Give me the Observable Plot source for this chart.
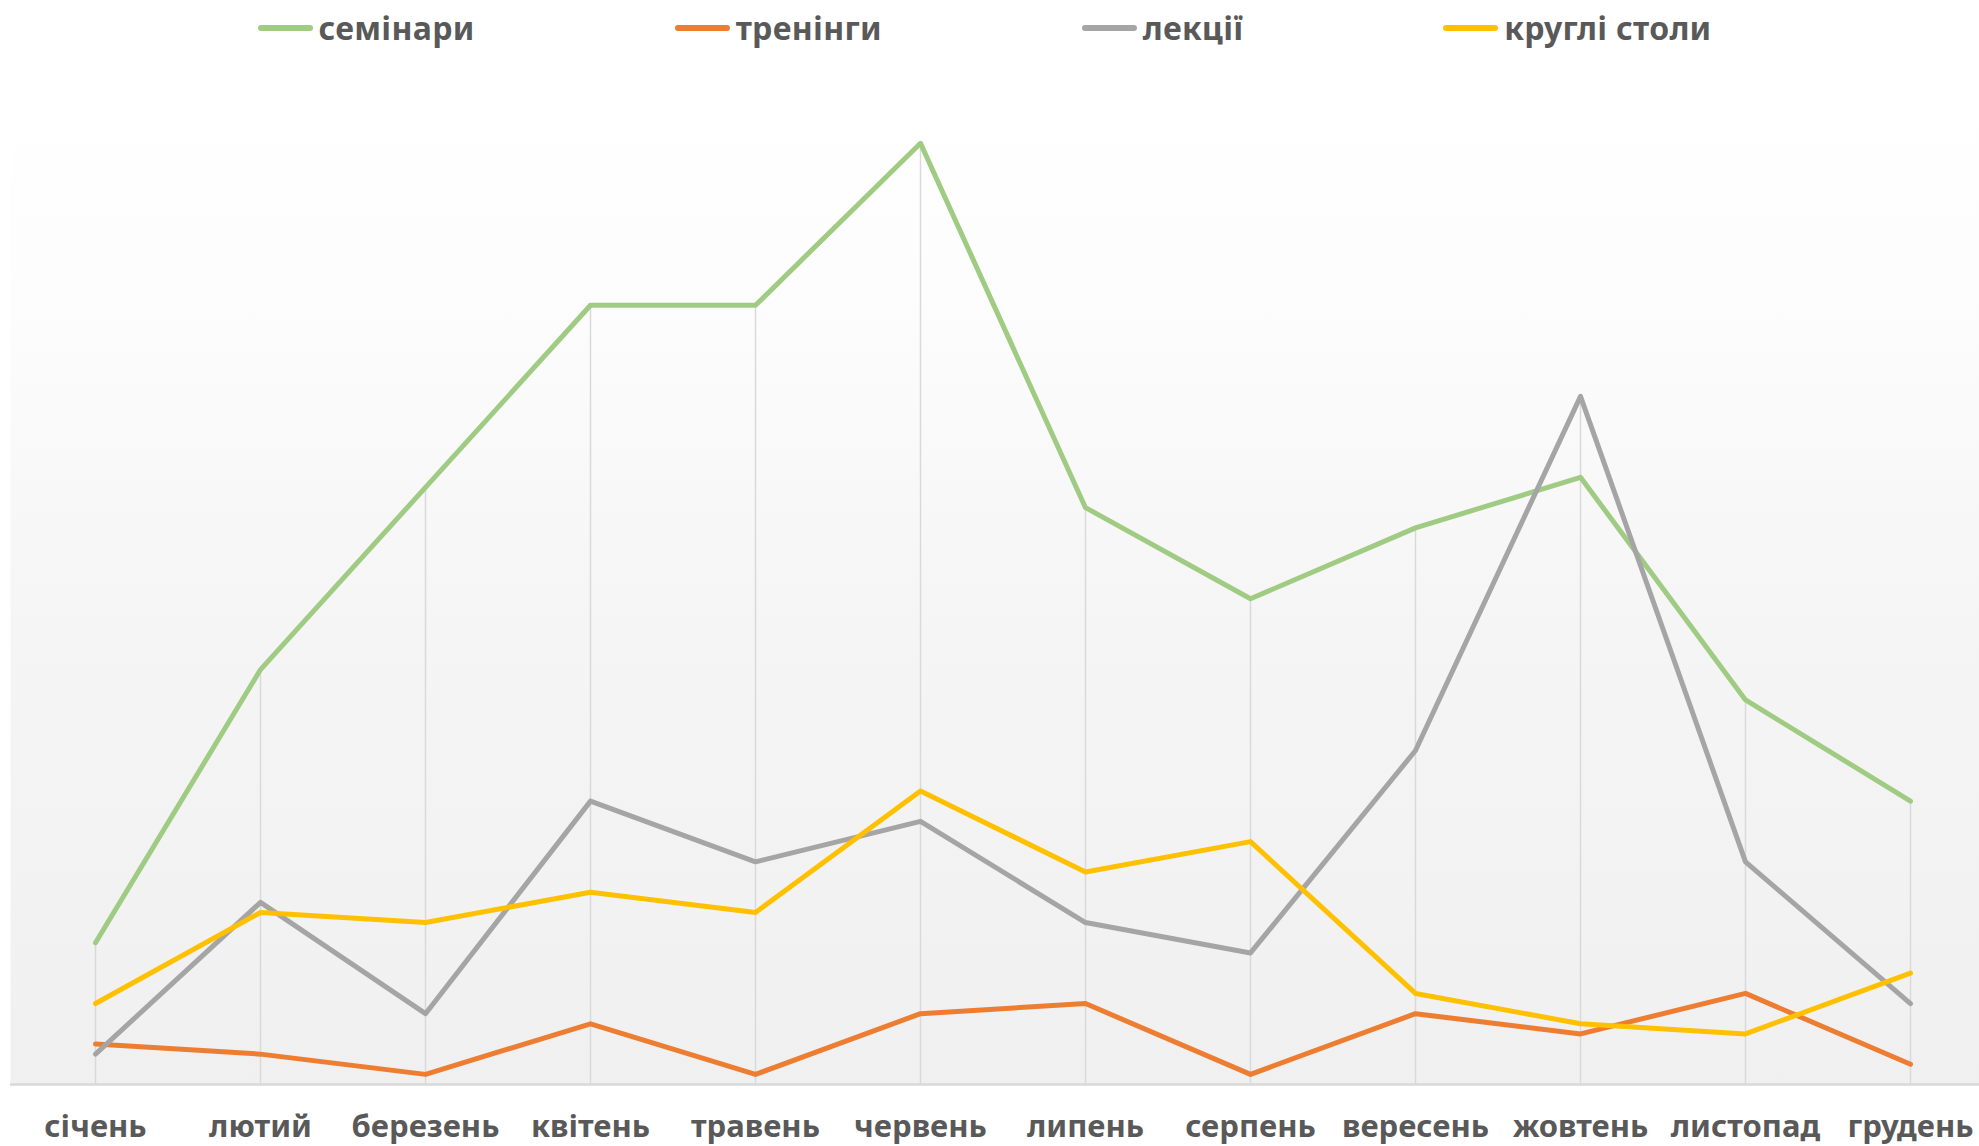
<!DOCTYPE html>
<html>
<head>
<meta charset="utf-8">
<script src="https://cdn.jsdelivr.net/npm/d3@7"></script>
<script src="https://cdn.jsdelivr.net/npm/@observablehq/plot@0.6"></script>
<style>
  html, body { margin: 0; padding: 0; background: #ffffff; overflow: hidden; }
  body { width: 1979px; height: 1146px; font-family: "Noto Sans", "DejaVu Sans", sans-serif; }
  #legend { height: 55px; display: flex; justify-content: center; align-items: center; gap: 200px; box-sizing: border-box; padding-right: 10px; }
  .item { display: flex; align-items: center; font-size: 32px; font-weight: bold; color: #595959; letter-spacing: 0.3px; }
  .sw { width: 55px; height: 6px; margin-right: 6px; border-radius: 3px; }
</style>
</head>
<body>
<div id="legend"></div>
<div id="chart"></div>
<script>
const months = ["січень","лютий","березень","квітень","травень","червень","липень","серпень","вересень","жовтень","листопад","грудень"];
const seriesNames = ["семінари","тренінги","лекції","круглі столи"];
const seminars   = [14, 41, 59, 77, 77, 93, 57, 48, 55, 60, 38, 28];
const trainings  = [4, 3, 1, 6, 1, 7, 8, 1, 7, 5, 9, 2];
const lectures   = [3, 18, 7, 28, 22, 26, 16, 13, 33, 68, 22, 8];
const roundTables = [8, 17, 16, 19, 17, 29, 21, 24, 9, 6, 5, 11];
const colors = ["#9fcb83", "#ed7d31", "#a5a5a5", "#ffc000"];

const values = [seminars, trainings, lectures, roundTables];
const data = seriesNames.flatMap((s, k) => months.map((m, i) => ({series: s, month: m, value: values[k][i]})));
const drops = months.map((m, i) => ({month: m, top: Math.max(...values.map(v => v[i]))}));

// legend
const legend = document.getElementById("legend");
seriesNames.forEach((s, k) => {
  const it = document.createElement("div");
  it.className = "item";
  const sw = document.createElement("span");
  sw.className = "sw";
  sw.style.background = colors[k];
  const t = document.createElement("span");
  t.textContent = s;
  it.appendChild(sw); it.appendChild(t);
  legend.appendChild(it);
});

const chart = Plot.plot({
  width: 1979,
  height: 1091,
  marginTop: 17,
  marginBottom: 62,
  marginLeft: 10,
  marginRight: 0,
  style: {fontFamily: "'Noto Sans', 'DejaVu Sans', sans-serif", background: "#ffffff", overflow: "visible"},
  x: {type: "point", domain: months, range: [92, 1912], padding: 0, label: null},
  y: {domain: [0, 100], axis: null},
  color: {domain: seriesNames, range: colors},
  marks: [
    Plot.frame({fill: "url(#bgGrad)", stroke: "none"}),
    Plot.ruleX(drops, {x: "month", y1: 0, y2: "top", stroke: "#d9d9d9", strokeWidth: 1.5}),
    Plot.ruleY([0], {stroke: "#d9d9d9", strokeWidth: 2.5}),
    Plot.line(data, {x: "month", y: "value", z: "series", stroke: "series", strokeWidth: 5, strokeLinejoin: "round", strokeLinecap: "round"}),
    Plot.axisX({tickSize: 0, tickPadding: 30, fontSize: 31, fontWeight: "bold", color: "#595959", label: null})
  ]
});

const svg = d3.select(chart);
const defs = svg.insert("defs", ":first-child");
const g = defs.append("linearGradient").attr("id", "bgGrad").attr("x1", 0).attr("y1", 0).attr("x2", 0).attr("y2", 1);
g.append("stop").attr("offset", "0%").attr("stop-color", "#ffffff");
g.append("stop").attr("offset", "20%").attr("stop-color", "#fdfdfd");
g.append("stop").attr("offset", "55%").attr("stop-color", "#f5f5f5");
g.append("stop").attr("offset", "100%").attr("stop-color", "#f0f0f0");

document.getElementById("chart").appendChild(chart);
</script>
</body>
</html>
